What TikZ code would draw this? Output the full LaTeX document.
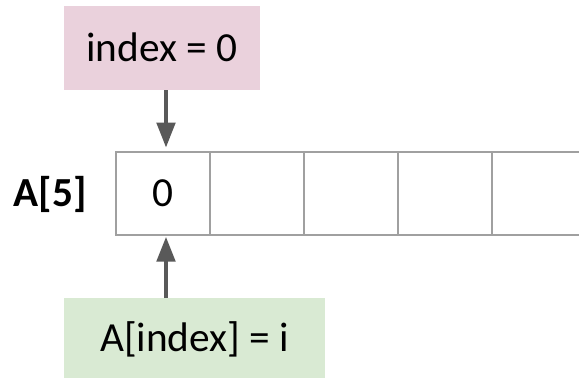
\documentclass[tikz,border=0pt]{standalone}
\usepackage{fontspec}
\setmainfont{Carlito}
\usetikzlibrary{positioning,arrows.meta}
\definecolor{pinkfill}{HTML}{EAD1DC}
\definecolor{greenfill}{HTML}{D9EAD3}
\definecolor{cellline}{RGB}{160,160,160}
\definecolor{arrgray}{RGB}{89,89,89}
\tikzset{
  txt/.style={inner sep=0pt, outer sep=0pt, text height=19.5pt, text depth=0pt,
              font=\fontsize{31}{36}\selectfont, text=black},
  note/.style={txt, draw=none, align=center},
  cell/.style={txt, draw=cellline, line width=1.5pt, minimum width=70.5pt,
               minimum height=62.25pt},
  arr/.style={-{Triangle[length=18.5pt, width=14pt]}, line width=2.3pt, draw=arrgray},
}

\begin{document}
\begin{tikzpicture}[x=0.75pt, y=-0.75pt]
  \useasboundingbox (0,0) rectangle (579,379);

  % the array
  \node[cell] (c1) at (163,193.5) {0};
  \node[cell, right=0pt of c1] (c2) {};
  \node[cell, right=0pt of c2] (c3) {};
  \node[cell, right=0pt of c3] (c4) {};
  \node[cell, right=0pt of c4] (c5) {};
  \node[txt, font=\fontsize{31}{36}\selectfont\bfseries] (name) at (50,193.5) {A[5]};

  % boxes above and below
  \node[note, fill=pinkfill, minimum width=147pt, minimum height=63pt] (idx) at (162,48) {index = 0};
  \node[note, fill=greenfill, minimum width=196pt, minimum height=60pt] (put) at (194.5,338) {A[index] = i};

  \draw[arr] (idx.south -| 166,0) -- ([xshift=2.25pt, yshift=3.5pt]c1.north);
  \draw[arr] (put.north -| 166,0) -- ([xshift=2.25pt, yshift=-1.5pt]c1.south);
\end{tikzpicture}
\end{document}
